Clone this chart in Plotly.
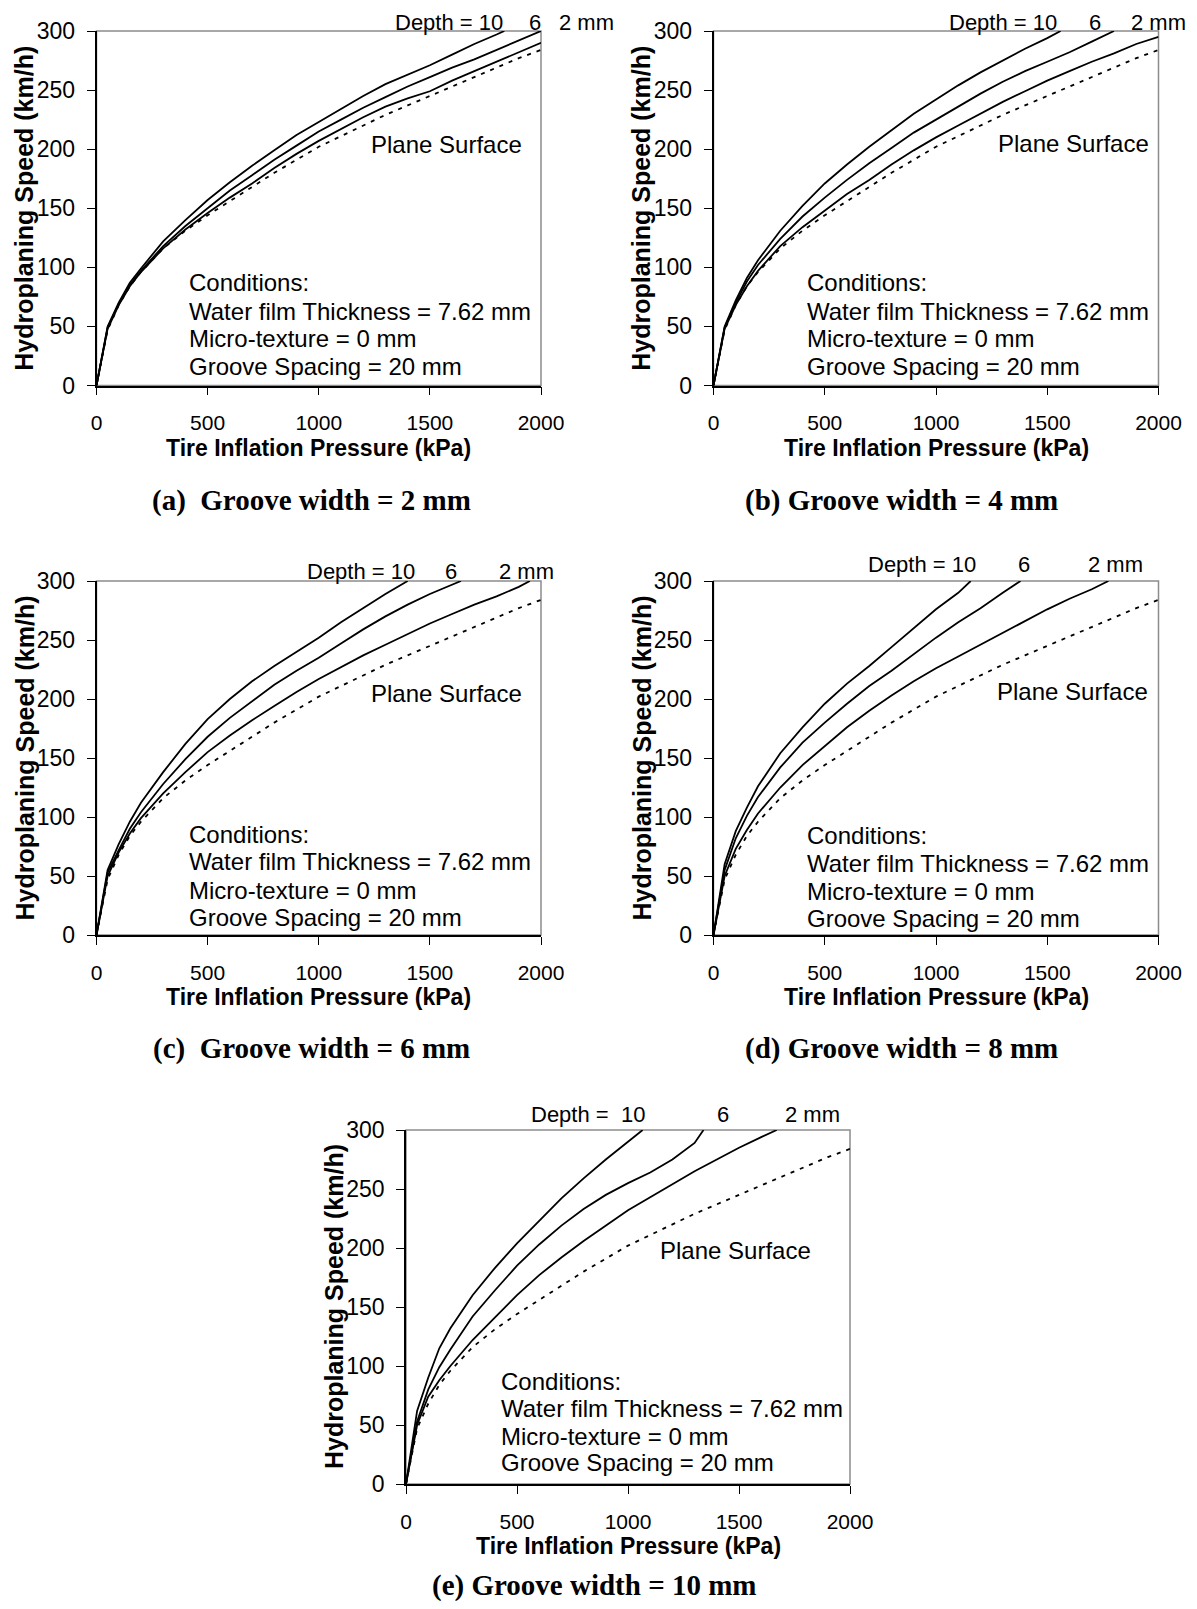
import plotly.graph_objects as go

# ---------------- data ----------------
x_ticks = [0, 500, 1000, 1500, 2000]
y_ticks = [0, 50, 100, 150, 200, 250, 300]

plane_p = [0, 50, 100, 150, 200, 300, 400, 500, 600, 700, 800, 900, 1000, 1100, 1200, 1300, 1400, 1500, 1600, 1700, 1800, 1900, 2000]
plane_v = [0, 47, 68, 84, 96, 116, 131, 144, 156, 168, 180, 191, 202, 211, 220, 229, 237, 245, 253, 261, 269, 277, 284]

# (a) groove width = 2 mm
a_d10_p = [0, 50, 100, 150, 200, 300, 400, 500, 600, 700, 800, 900, 1000, 1100, 1200, 1300, 1400, 1500, 1600, 1700, 1800, 1835]
a_d10_v = [0, 50, 70, 87, 99, 122, 140, 157, 172, 186, 199, 212, 223, 234, 245, 255, 263, 271, 280, 289, 297, 300]
a_d6_p = [0, 50, 100, 150, 200, 300, 400, 500, 600, 700, 800, 900, 1000, 1100, 1200, 1300, 1400, 1500, 1600, 1700, 1800, 1900, 2000]
a_d6_v = [0, 49, 69, 85, 97, 118, 135, 150, 165, 178, 191, 203, 215, 225, 235, 244, 253, 261, 269, 276, 284, 292, 300]
a_d2_p = [0, 50, 100, 150, 200, 300, 400, 500, 600, 700, 800, 900, 1000, 1100, 1200, 1300, 1400, 1500, 1600, 1700, 1800, 1900, 2000]
a_d2_v = [0, 48, 68, 84, 96, 116, 132, 146, 159, 171, 184, 196, 207, 217, 227, 236, 243, 249, 258, 266, 274, 282, 290]

# (b) groove width = 4 mm
b_d10_p = [0, 50, 100, 150, 200, 300, 400, 500, 600, 700, 800, 900, 1000, 1100, 1200, 1300, 1400, 1500, 1560]
b_d10_v = [0, 50, 72, 91, 106, 131, 152, 171, 187, 202, 216, 230, 242, 254, 265, 275, 285, 294, 300]
b_d6_p = [0, 50, 100, 150, 200, 300, 400, 500, 600, 700, 800, 900, 1000, 1100, 1200, 1300, 1400, 1500, 1600, 1700, 1800]
b_d6_v = [0, 49, 70, 88, 102, 124, 143, 159, 174, 188, 201, 214, 225, 236, 247, 257, 266, 274, 282, 291, 300]
b_d2_p = [0, 50, 100, 150, 200, 300, 400, 500, 600, 700, 800, 900, 1000, 1100, 1200, 1300, 1400, 1500, 1600, 1700, 1800, 1900, 2000]
b_d2_v = [0, 48, 68, 84, 97, 118, 134, 148, 162, 174, 187, 199, 210, 220, 230, 240, 249, 258, 266, 274, 281, 289, 295]

# (c) groove width = 6 mm
c_d10_p = [0, 50, 100, 150, 200, 300, 400, 500, 600, 700, 800, 900, 1000, 1100, 1200, 1300, 1400]
c_d10_v = [0, 55, 77, 96, 112, 138, 162, 183, 200, 215, 228, 240, 252, 265, 277, 289, 300]
c_d6_p = [0, 50, 100, 150, 200, 300, 400, 500, 600, 700, 800, 900, 1000, 1100, 1200, 1300, 1400, 1500, 1600, 1640]
c_d6_v = [0, 53, 72, 90, 104, 128, 149, 168, 184, 198, 212, 224, 235, 247, 259, 270, 280, 289, 297, 300]
c_d2_p = [0, 50, 100, 150, 200, 300, 400, 500, 600, 700, 800, 900, 1000, 1100, 1200, 1300, 1400, 1500, 1600, 1700, 1800, 1900, 1950]
c_d2_v = [0, 50, 70, 86, 99, 120, 138, 155, 169, 182, 194, 206, 217, 227, 237, 246, 255, 264, 272, 280, 287, 295, 300]

# (d) groove width = 8 mm
d_d10_p = [0, 50, 100, 150, 200, 300, 400, 500, 600, 700, 800, 900, 1000, 1100, 1156]
d_d10_v = [0, 60, 88, 108, 126, 154, 176, 196, 213, 228, 244, 260, 276, 290, 300]
d_d6_p = [0, 50, 100, 150, 200, 300, 400, 500, 600, 700, 800, 900, 1000, 1100, 1200, 1300, 1380]
d_d6_v = [0, 55, 82, 101, 117, 142, 163, 180, 196, 211, 224, 238, 252, 265, 277, 290, 300]
d_d2_p = [0, 50, 100, 150, 200, 300, 400, 500, 600, 700, 800, 900, 1000, 1100, 1200, 1300, 1400, 1500, 1600, 1700, 1775]
d_d2_v = [0, 50, 73, 89, 103, 125, 144, 160, 176, 190, 203, 215, 226, 236, 246, 256, 266, 276, 285, 293, 300]

# (e) groove width = 10 mm
e_d10_p = [0, 50, 100, 150, 200, 300, 400, 500, 600, 700, 800, 900, 1000, 1066]
e_d10_v = [0, 62, 90, 115, 132, 160, 183, 204, 223, 242, 259, 275, 290, 300]
e_d6_p = [0, 50, 100, 150, 200, 300, 400, 500, 600, 700, 800, 900, 1000, 1100, 1200, 1300, 1340]
e_d6_v = [0, 53, 80, 99, 114, 142, 164, 185, 203, 219, 233, 245, 255, 264, 275, 289, 300]
e_d2_p = [0, 50, 100, 150, 200, 300, 400, 500, 600, 700, 800, 900, 1000, 1100, 1200, 1300, 1400, 1500, 1600, 1670]
e_d2_v = [0, 50, 74, 88, 100, 122, 141, 160, 177, 192, 206, 219, 232, 243, 254, 265, 275, 285, 294, 300]

captions = ["(a)\u00a0 Groove width = 2 mm", "(b) Groove width = 4 mm", "(c)\u00a0 Groove width = 6 mm",
            "(d) Groove width = 8 mm", "(e) Groove width = 10 mm"]
conditions = ["Conditions:", "Water film Thickness = 7.62 mm", "Micro-texture = 0 mm", "Groove Spacing = 20 mm"]
depth_labels = [["Depth = 10", "6", "2 mm"]] * 4 + [["Depth =\u00a0 10", "6", "2 mm"]]

# ---------------- layout geometry ----------------
PAGE_W, PAGE_H = 1197, 1609
OFF = 8  # default body margin of the html page
W, H = PAGE_W - 2 * OFF, PAGE_H - 2 * OFF


def fx(px):
    return (px - OFF) / W


def fy(py):
    return 1 - (py - OFF) / H


# plot boxes in page pixels: left, right, top, bottom
boxes = [(96.5, 541, 31, 385.5), (713.5, 1158.5, 31, 385.5),
         (96.5, 541, 581, 935), (713.5, 1158.5, 581, 935),
         (406, 850, 1130, 1484)]
caption_pos = [(311, 500), (901, 500), (311, 1048), (901, 1048), (594, 1585)]
# label placements in data units
depth_pos = [  # (x right of "Depth = 10", x center of "6", x left of "2 mm", y)
    (1838, 1973, 2071, 307.5), (1555, 1714, 1869, 307.5), (1441, 1596, 1801, 308),
    (1187, 1397, 1672, 314), (1087, 1430, 1696, 313)]
plane_pos = [(1576, 204), (1616, 205), (1576, 205), (1612, 206), (1486, 198)]
cond_x = [409, 413, 409, 412, 417]
cond_y = [[87, 63, 39.5, 16], [87, 63, 39.5, 16], [85, 62, 38, 15], [84, 61, 37, 14], [87, 64, 40, 18]]

panels = [
    [(a_d10_p, a_d10_v), (a_d6_p, a_d6_v), (a_d2_p, a_d2_v)],
    [(b_d10_p, b_d10_v), (b_d6_p, b_d6_v), (b_d2_p, b_d2_v)],
    [(c_d10_p, c_d10_v), (c_d6_p, c_d6_v), (c_d2_p, c_d2_v)],
    [(d_d10_p, d_d10_v), (d_d6_p, d_d6_v), (d_d2_p, d_d2_v)],
    [(e_d10_p, e_d10_v), (e_d6_p, e_d6_v), (e_d2_p, e_d2_v)],
]

SANS = "Liberation Sans, Arial, sans-serif"
SERIF = "Liberation Serif, Times New Roman, serif"
XMAX, YMAX = 2000, 300

fig = go.Figure()
annotations = []
shapes = []
layout_axes = {}

for i, (curves, box) in enumerate(zip(panels, boxes)):
    n = i + 1
    xa = "x" if n == 1 else f"x{n}"
    ya = "y" if n == 1 else f"y{n}"
    xd, yd = f"{xa} domain", f"{ya} domain"
    L, R, T, B = box
    layout_axes["xaxis" if n == 1 else f"xaxis{n}"] = dict(
        domain=[fx(L), fx(R)], range=[0, XMAX], anchor=ya, automargin=False,
        tickvals=x_ticks, ticks="outside", ticklen=8, tickwidth=1.3, tickcolor="black",
        showline=True, linecolor="black", linewidth=1.5, showgrid=False, zeroline=False,
        tickfont=dict(family=SANS, size=21, color="black"), ticklabelstandoff=10, fixedrange=True)
    layout_axes["yaxis" if n == 1 else f"yaxis{n}"] = dict(
        domain=[fy(B), fy(T)], range=[0, YMAX], anchor=xa, automargin=False,
        tickvals=y_ticks, ticks="outside", ticklen=8, tickwidth=1.3, tickcolor="black",
        showline=True, linecolor="black", linewidth=1.5, showgrid=False, zeroline=False,
        tickfont=dict(family=SANS, size=23, color="black"), ticklabelstandoff=7, fixedrange=True)

    # gray frame (top/right border of the plot area)
    shapes.append(dict(type="rect", xref=xd, yref=yd, x0=0, x1=1, y0=0, y1=1,
                       line=dict(color="#8c8c8c", width=1.5), layer="below"))

    # plane surface (dotted)
    fig.add_trace(go.Scatter(x=plane_p, y=plane_v, mode="lines", xaxis=xa, yaxis=ya,
                             line=dict(color="black", width=1.8, dash="4px,6px"), showlegend=False))
    for p, v in curves:
        fig.add_trace(go.Scatter(x=p, y=v, mode="lines", xaxis=xa, yaxis=ya,
                                 line=dict(color="black", width=1.8), showlegend=False))

    # axis titles
    annotations.append(dict(text="<b>Tire Inflation Pressure (kPa)</b>", xref=xd, yref=yd,
                            x=0.5, y=0, yshift=-62, xanchor="center", yanchor="middle", showarrow=False,
                            font=dict(family=SANS, size=23, color="black")))
    annotations.append(dict(text="<b>Hydroplaning Speed (km/h)</b>", xref=xd, yref=yd,
                            x=0, y=0.5, xshift=-72, textangle=-90, xanchor="center", yanchor="middle",
                            showarrow=False, font=dict(family=SANS, size=25, color="black")))
    # caption
    cx, cy = caption_pos[i]
    annotations.append(dict(text=f"<b>{captions[i]}</b>", xref="paper", yref="paper", x=fx(cx), y=fy(cy),
                            xanchor="center", yanchor="middle", showarrow=False,
                            font=dict(family=SERIF, size=29, color="black")))
    # depth labels (above the plot area -> domain references so they are not hidden)
    d10x, d6x, d2x, dy = depth_pos[i]
    lab = depth_labels[i]
    for txt, xx, anc in ((lab[0], d10x, "right"), (lab[1], d6x, "center"), (lab[2], d2x, "left")):
        annotations.append(dict(text=txt, xref=xd, yref=yd, x=xx / XMAX, y=dy / YMAX, xanchor=anc,
                                yanchor="middle", showarrow=False,
                                font=dict(family=SANS, size=22, color="black")))
    # plane surface label
    px_, py_ = plane_pos[i]
    annotations.append(dict(text="Plane Surface", xref=xa, yref=ya, x=px_, y=py_, xanchor="center",
                            yanchor="middle", showarrow=False, font=dict(family=SANS, size=24, color="black")))
    # conditions block
    for line, yy in zip(conditions, cond_y[i]):
        annotations.append(dict(text=line, xref=xa, yref=ya, x=cond_x[i], y=yy, xanchor="left",
                                yanchor="middle", showarrow=False, font=dict(family=SANS, size=24, color="black")))

fig.update_layout(width=W, height=H, margin=dict(l=0, r=0, t=0, b=0, autoexpand=False),
                  paper_bgcolor="white", plot_bgcolor="white", showlegend=False,
                  annotations=annotations, shapes=shapes, **layout_axes)

fig.write_html("out.html")
